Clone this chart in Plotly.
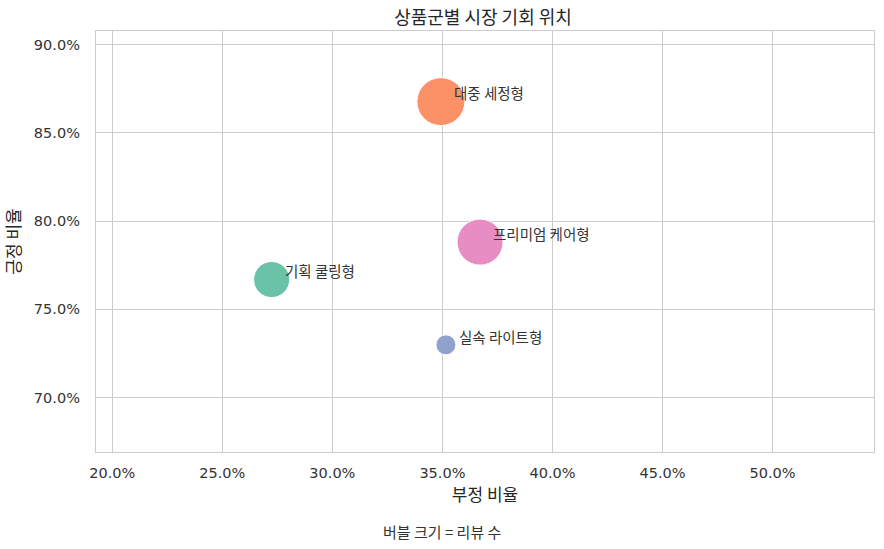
import plotly.graph_objects as go

categories = ["대중 세정형", "프리미엄 케어형", "기획 쿨링형", "실속 라이트형"]
neg_ratio = [0.3493, 0.3671, 0.2724, 0.3516]
pos_ratio = [0.8677, 0.7881, 0.7669, 0.7299]
review_counts = [1150, 1060, 650, 200]
colors = ["#fc8d62", "#e78ac3", "#66c2a5", "#8da0cb"]

x_ticks = [0.20, 0.25, 0.30, 0.35, 0.40, 0.45, 0.50]
y_ticks = [0.70, 0.75, 0.80, 0.85, 0.90]

FONT = "Noto Sans CJK KR"
TICKFONT = "DejaVu Sans"

fig = go.Figure()
fig.add_trace(go.Scatter(
    x=neg_ratio, y=pos_ratio, mode="markers",
    marker=dict(size=review_counts, sizemode="area", sizeref=1.0,
                color=colors, opacity=0.97,
                line=dict(color="white", width=1)),
    hoverinfo="text", text=categories, showlegend=False,
))

for name, xv, yv in zip(categories, neg_ratio, pos_ratio):
    fig.add_annotation(x=xv + 0.005, y=yv + 0.005, text=name, showarrow=False,
                       xanchor="left", yanchor="middle",
                       font=dict(family=FONT, size=14.5, color="#333333"))

fig.add_annotation(x=(442 - 96) / 778, y=-0.19, xref="paper", yref="paper", text="버블 크기 = 리뷰 수",
                   showarrow=False, xanchor="center", yanchor="middle",
                   font=dict(family=FONT, size=15, color="#333333"))

axis_common = dict(showgrid=True, gridcolor="#cccccc", gridwidth=1,
                   showline=True, linecolor="#cccccc", linewidth=1.3, mirror=True,
                   zeroline=False, ticks="", tickformat=".1%",
                   tickfont=dict(family=TICKFONT, size=14.5, color="#333333"))

fig.update_layout(
    width=884, height=549,
    margin=dict(l=96, r=10, t=31, b=97),
    paper_bgcolor="white", plot_bgcolor="white",
    title=dict(text="상품군별 시장 기회 위치", x=0.5464, xanchor="center", y=0.967, yanchor="middle",
               font=dict(family=FONT, size=18, color="#262626")),
    xaxis=dict(range=[0.1926, 0.5461], tickvals=x_ticks, ticklabelstandoff=7,
               title=dict(text="부정 비율", standoff=3, font=dict(family=FONT, size=17, color="#262626")),
               **axis_common),
    yaxis=dict(range=[0.6692, 0.9077], tickvals=y_ticks, ticklabelstandoff=12,
               title=dict(text="긍정 비율", standoff=8, font=dict(family=FONT, size=17, color="#262626")),
               **axis_common),
)

fig.write_html("out.html")
